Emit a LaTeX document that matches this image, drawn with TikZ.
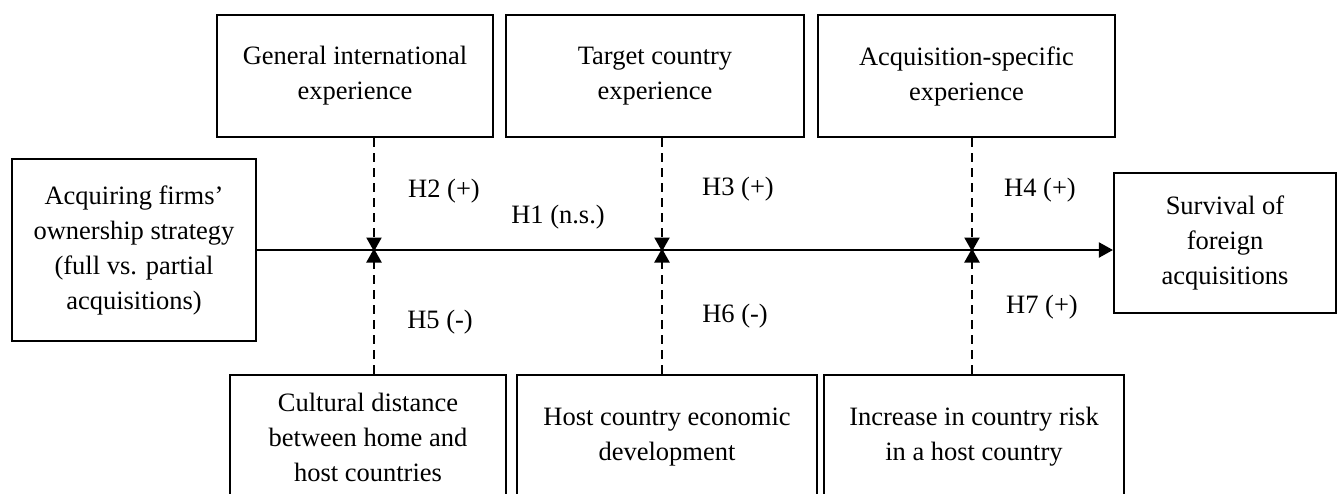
\documentclass[tikz,border=0pt]{standalone}
\usepackage{fontspec}
\setmainfont{Liberation Serif}
\usetikzlibrary{arrows.meta}
\tikzset{
  box/.style={draw, line width=2.1pt, inner sep=0pt, align=center, font=\fontsize{26.5}{35}\selectfont},
  lbl/.style={inner sep=0pt, font=\fontsize{26.5}{35}\selectfont},
  mainarrow/.style={line width=2pt, -{Triangle[width=15pt,length=14pt]}},
  modarrow/.style={line width=2.2pt, dash pattern=on 9pt off 6pt, -{Triangle[width=15pt,length=14pt]}},
}
\begin{document}
\begin{tikzpicture}[x=1pt,y=-1pt]
\useasboundingbox (0,0) rectangle (1344,493);
\clip (0,0) rectangle (1344,493);
% left and right boxes
\node[box, minimum width=244pt, minimum height=182pt] (own) at (134,250) {Acquiring firms’\\ownership strategy\\(full vs. partial\\acquisitions)};
\node[box, minimum width=222pt, minimum height=140pt] (surv) at (1225,243) {Survival of\\foreign\\acquisitions};
% top boxes
\node[box, minimum width=276pt, minimum height=122pt] (gen) at (355,76) {General international\\experience};
\node[box, minimum width=298pt, minimum height=122pt] (tgt) at (655,76) {Target country\\experience};
\node[box, minimum width=297pt, minimum height=122pt] (acq) at (966.5,76) {Acquisition-specific\\experience};
% bottom boxes
\node[box, minimum width=276pt, minimum height=124pt] (cul) at (368,437) {Cultural distance\\between home and\\host countries};
\node[box, minimum width=300pt, minimum height=124pt] (host) at (667,437) {Host country economic\\development};
\node[box, minimum width=300pt, minimum height=124pt] (risk) at (974,437) {Increase in country risk\\in a host country};
% meeting points on main path
\coordinate (m1) at (374,250);
\coordinate (m2) at (662,250);
\coordinate (m3) at (972,250);
% main arrow
\draw[mainarrow] (own.east |- 0,250) -- (surv.west |- 0,250);
% moderators from top
\draw[modarrow] (gen.south -| m1) -- ([yshift=-1.5pt]m1);
\draw[modarrow] (tgt.south -| m2) -- ([yshift=-1.5pt]m2);
\draw[modarrow] (acq.south -| m3) -- ([yshift=-1.5pt]m3);
% moderators from bottom
\draw[modarrow] (cul.north -| m1) -- ([yshift=1.5pt]m1);
\draw[modarrow] (host.north -| m2) -- ([yshift=1.5pt]m2);
\draw[modarrow] (risk.north -| m3) -- ([yshift=1.5pt]m3);
% labels
\node[lbl] (h1) at (558,217) {H1 (n.s.)};
\node[lbl] (h2) at (444,191) {H2 (+)};
\node[lbl] (h3) at (738,189) {H3 (+)};
\node[lbl] (h4) at (1040,190) {H4 (+)};
\node[lbl] (h5) at (440,322) {H5 (-)};
\node[lbl] (h6) at (735,316) {H6 (-)};
\node[lbl] (h7) at (1042,307) {H7 (+)};
\end{tikzpicture}
\end{document}
